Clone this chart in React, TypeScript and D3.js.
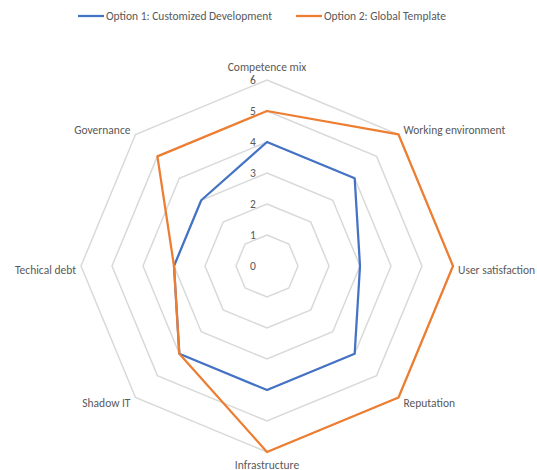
import * as d3 from 'd3'

const categories = [
  'Competence mix',
  'Working environment',
  'User satisfaction',
  'Reputation',
  'Infrastructure',
  'Shadow IT',
  'Techical debt',
  'Governance',
]
const option1 = [4, 4, 3, 4, 4, 4, 3, 3]
const option2 = [5, 6, 6, 6, 6, 4, 3, 5]
const ticks = [0, 1, 2, 3, 4, 5, 6]
const seriesNames = ['Option 1: Customized Development', 'Option 2: Global Template']
const colors = ['#4472C4', '#ED7D31']

const W = 537
const H = 470
const cx = 267
const cy = 266
const R = 186
const FONT = "Carlito, Calibri, 'Liberation Sans Narrow', 'Open Sans', sans-serif"

export default function App() {
  const r = d3.scaleLinear([0, 6], [0, R])
  const angle = (i: number) => (i * 2 * Math.PI) / categories.length
  const pt = (i: number, v: number): [number, number] => [
    cx + r(v) * Math.sin(angle(i)),
    cy - r(v) * Math.cos(angle(i)),
  ]
  const line = d3.line<[number, number]>().curve(d3.curveLinearClosed)
  const ring = (v: number) => line(categories.map((_, i) => pt(i, v))) || undefined

  // label anchor per axis
  const labelPos = (i: number) => {
    const [x, y] = pt(i, 6)
    const s = Math.sin(angle(i))
    const c = Math.cos(angle(i))
    let anchor: 'start' | 'middle' | 'end' = 'middle'
    if (s > 0.1) anchor = 'start'
    else if (s < -0.1) anchor = 'end'
    const dx = s > 0.1 ? 5 : s < -0.1 ? -5 : 0
    let dy = 8
    if (Math.abs(s) < 0.1) dy = c > 0 ? -9 : 17
    else if (c > 0.1) dy = 0
    else if (c < -0.1) dy = 9.5
    return { x: x + dx, y: y + dy, anchor }
  }

  return (
    <svg
      width={W}
      height={H}
      style={{ position: 'absolute', left: 0, top: 0, background: '#fff' }}
      fontFamily={FONT}
    >
      {ticks.slice(1).map((t) => (
        <path key={t} d={ring(t)} fill="none" stroke="#d9d9d9" strokeWidth={1.5} />
      ))}
      {ticks.map((t) => (
        <text
          key={t}
          x={cx - 14}
          y={cy - r(t) + 4}
          fontSize={11.5}
          fill="#595959"
          textAnchor="middle"
        >
          {t}
        </text>
      ))}
      {[option1, option2].map((s, k) => (
        <path
          key={k}
          d={line(s.map((v, i) => pt(i, v))) || undefined}
          fill="none"
          stroke={colors[k]}
          strokeWidth={2.25}
          strokeLinejoin="round"
        />
      ))}
      {categories.map((c, i) => {
        const p = labelPos(i)
        return (
          <text key={c} x={p.x} y={p.y} textAnchor={p.anchor} fontSize={11.5} fill="#595959">
            {c}
          </text>
        )
      })}
      <g>
        <line x1={78} x2={104} y1={16} y2={16} stroke={colors[0]} strokeWidth={2.25} />
        <text x={106} y={20} fontSize={11.5} fill="#595959">
          {seriesNames[0]}
        </text>
        <line x1={296} x2={322} y1={16} y2={16} stroke={colors[1]} strokeWidth={2.25} />
        <text x={324} y={20} fontSize={11.5} fill="#595959">
          {seriesNames[1]}
        </text>
      </g>
    </svg>
  )
}
